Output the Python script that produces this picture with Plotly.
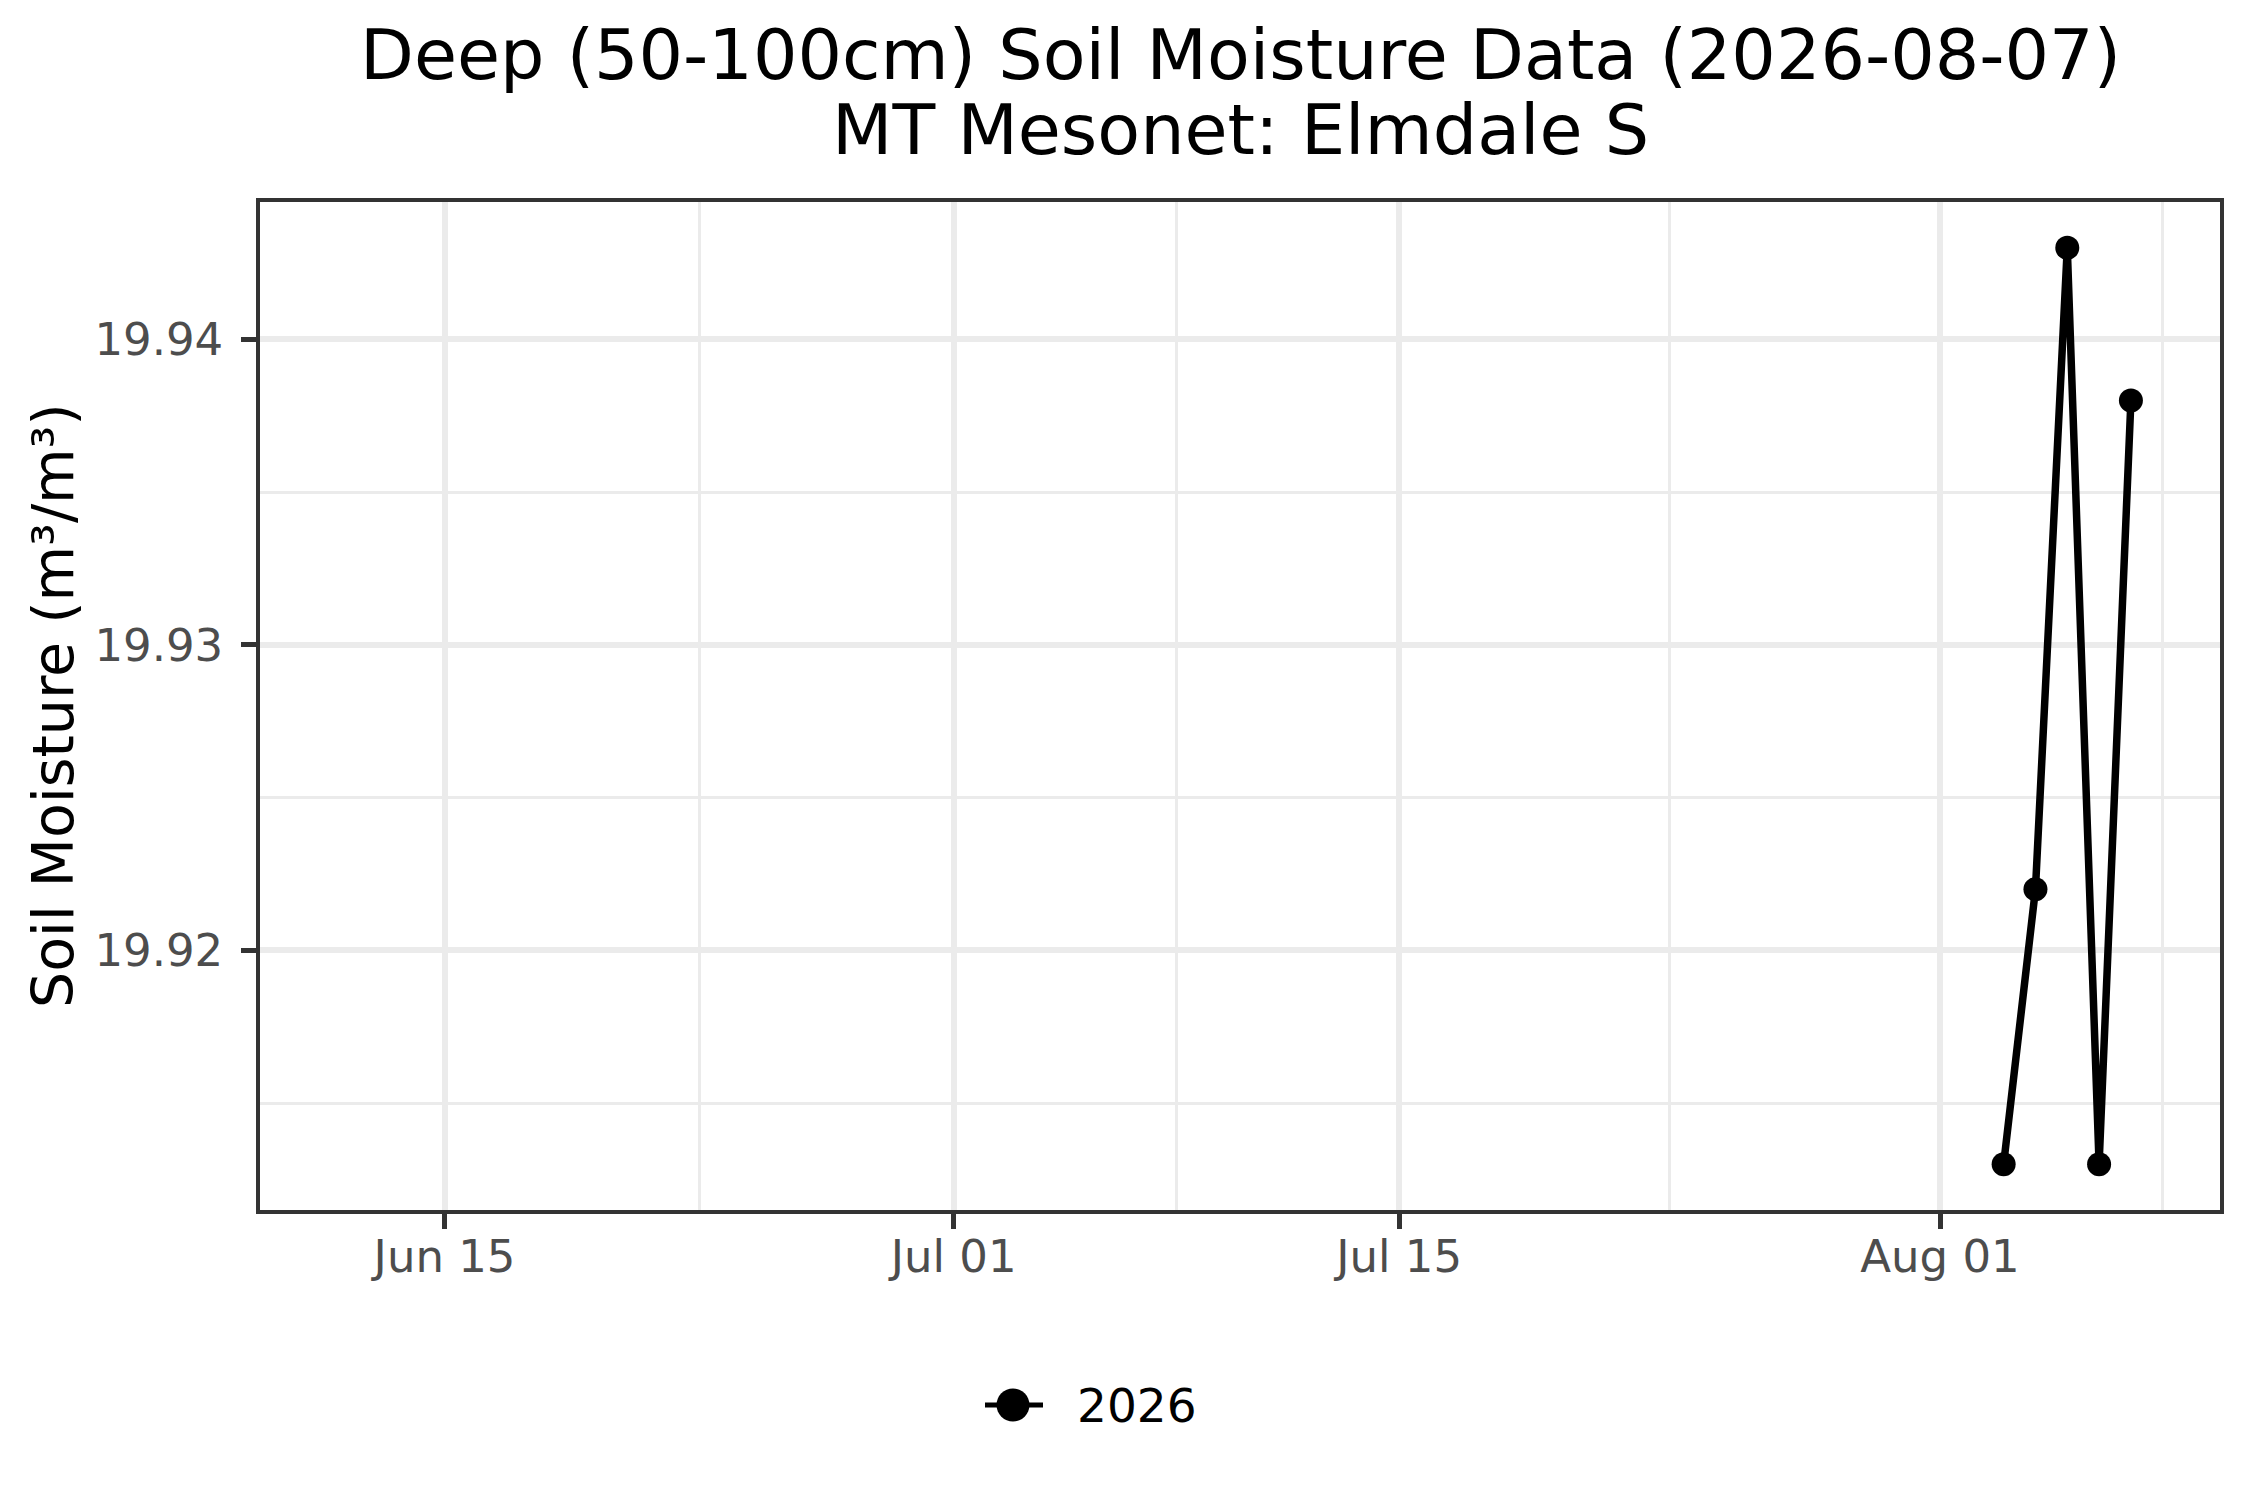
import plotly.graph_objects as go

# ---- data ----
dates = ["2026-08-03", "2026-08-04", "2026-08-05", "2026-08-06", "2026-08-07"]
moisture = [19.913, 19.922, 19.943, 19.913, 19.938]
series_name = "2026"

x_tick_vals = ["2026-06-15", "2026-07-01", "2026-07-15", "2026-08-01"]
x_tick_text = ["Jun 15", "Jul 01", "Jul 15", "Aug 01"]
x_minor_vals = ["2026-06-23", "2026-07-08", "2026-07-23 12:00", "2026-08-08"]
y_tick_vals = [19.92, 19.93, 19.94]
y_tick_text = ["19.92", "19.93", "19.94"]
y_minor_vals = [19.915, 19.925, 19.935]

title_line1 = "Deep (50-100cm) Soil Moisture Data (2026-08-07)"
title_line2 = "MT Mesonet: Elmdale S"
y_title = "Soil Moisture (m³/m³)"

# ---- layout constants ----
OFF = 8  # page body margin
W, H = 2250, 1500
L, R, T, B = 260 - OFF, 30 + OFF, 202 - OFF, 290 + OFF
PW = W - L - R
PH = H - T - B
FONT = "DejaVu Sans"
GRID = "#EBEBEB"
DARK = "#333333"


def px_x(px):
    return (px - OFF - L) / PW


def px_y(py):
    return (H - B - (py - OFF)) / PH


fig = go.Figure()
fig.add_trace(go.Scatter(
    x=dates, y=moisture, mode="lines+markers", name=series_name,
    line=dict(color="black", width=7.5),
    marker=dict(color="black", size=24),
    showlegend=False,
))

axis_common = dict(
    showline=True, linecolor=DARK, linewidth=3.5, mirror=True,
    ticks="outside", ticklen=15, tickwidth=5, tickcolor=DARK,
    tickfont=dict(family=FONT, size=45, color="#4D4D4D"),
    showgrid=True, gridcolor=GRID, gridwidth=5.5,
    zeroline=False,
)

fig.update_xaxes(
    type="date",
    range=["2026-06-09 04:48", "2026-08-09 19:12"],
    tickmode="array", tickvals=x_tick_vals, ticktext=x_tick_text,
    minor=dict(tickmode="array", tickvals=x_minor_vals, showgrid=True,
               gridcolor=GRID, gridwidth=2.8, ticks=""),
    ticklabelstandoff=-11,
    **axis_common,
)
fig.update_yaxes(
    range=[19.9115, 19.9445],
    tickmode="array", tickvals=y_tick_vals, ticktext=y_tick_text,
    minor=dict(tickmode="array", tickvals=y_minor_vals, showgrid=True,
               gridcolor=GRID, gridwidth=2.8, ticks=""),
    ticklabelstandoff=9,
    **axis_common,
)

annotations = [
    dict(text=title_line1, x=0.5, y=px_y(55), xref="paper", yref="paper",
         xanchor="center", yanchor="middle", showarrow=False,
         font=dict(family=FONT, size=70, color="black")),
    dict(text=title_line2, x=0.5, y=px_y(130), xref="paper", yref="paper",
         xanchor="center", yanchor="middle", showarrow=False,
         font=dict(family=FONT, size=70, color="black")),
    dict(text=y_title, x=px_x(53), y=0.5, xref="paper", yref="paper",
         xanchor="center", yanchor="middle", textangle=-90, showarrow=False,
         font=dict(family=FONT, size=57, color="black")),
    dict(text=series_name, x=px_x(1075), y=px_y(1405), xref="paper", yref="paper",
         xanchor="left", yanchor="middle", showarrow=False,
         font=dict(family=FONT, size=47, color="black")),
]

shapes = [
    dict(type="line", xref="paper", yref="paper",
         x0=px_x(985), x1=px_x(1043), y0=px_y(1405), y1=px_y(1405),
         line=dict(color="black", width=5)),
    dict(type="circle", xref="paper", yref="paper",
         xsizemode="pixel", ysizemode="pixel",
         xanchor=px_x(1013), yanchor=px_y(1405),
         x0=-16.5, x1=16.5, y0=-16.5, y1=16.5,
         fillcolor="black", line=dict(color="black", width=0)),
]

fig.update_layout(
    width=W, height=H,
    margin=dict(l=L, r=R, t=T, b=B, autoexpand=False),
    paper_bgcolor="white", plot_bgcolor="white",
    showlegend=False,
    annotations=annotations, shapes=shapes,
    font=dict(family=FONT),
)

fig.write_html("out.html")
